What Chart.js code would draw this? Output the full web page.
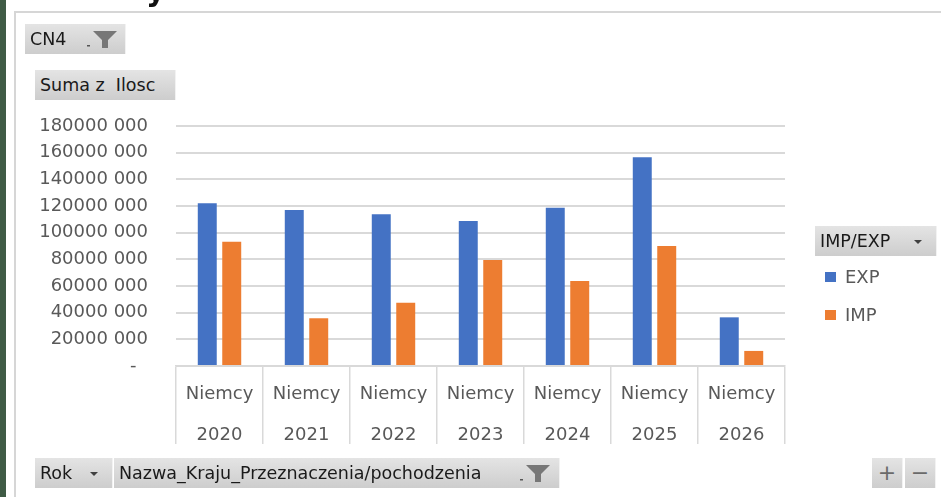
<!DOCTYPE html>
<html>
<head>
<meta charset="utf-8">
<script src="https://cdn.jsdelivr.net/npm/chart.js@4"></script>
<style>
  body { margin: 0; background: #fff; }
  #wrap { position: relative; width: 941px; height: 497px; overflow: hidden; font-family: "DejaVu Sans", sans-serif; }
  #chart { position: absolute; left: 0; top: 0; }
  .strip { position: absolute; left: 0; top: 0; width: 6px; height: 497px; background: #3f5b45; }
  .frame { position: absolute; left: 14px; top: 11px; right: -2px; bottom: -2px; border-left: 2px solid #d6d6d6; border-top: 2px solid #d6d6d6; }
  .cut { position: absolute; left: 146px; top: -27px; font: bold 30px "DejaVu Sans", sans-serif; color: #111; }
  .btn { position: absolute; height: 30px; box-sizing: border-box; background: linear-gradient(#e4e4e4, #cdcdcd); border-right: 1px solid #f2f2f2;
         font-size: 17.5px; line-height: 30px; color: #1a1a1a; padding-left: 5px; white-space: pre; }
  .btn svg { position: absolute; top: 0; }
  .legend { position: absolute; left: 825px; top: 262px; font-size: 18px; color: #595959; }
  .legend div { height: 38px; line-height: 30px; }
  .legend span { display: inline-block; width: 11px; height: 10px; margin-right: 9px; vertical-align: 1px; }
</style>
</head>
<body>
<div id="wrap">
  <canvas id="chart" width="941" height="497"></canvas>
  <div class="strip"></div>
  <div class="frame"></div>
  <div class="cut">y</div>

  <div class="btn" style="left:25px; top:24px; width:101px;">CN4
    <svg style="left:60px" width="40" height="30"><rect x="2" y="21" width="3" height="1.5" fill="#555"/><polygon points="8,7 32,7 23,16 23,24 17,24 17,16" fill="#777"/></svg></div>
  <div class="btn" style="left:35px; top:70px; width:141px;">Suma z  Ilosc</div>

  <div class="btn" style="left:815px; top:226px; width:122px;">IMP/EXP
    <svg style="left:96px" width="20" height="30"><polygon points="3,14 11,14 7,18" fill="#404040"/></svg></div>
  <div class="legend" id="legend"></div>

  <div class="btn" style="left:35px; top:458px; width:78px;">Rok
    <svg style="left:52px" width="20" height="30"><polygon points="3,14 11,14 7,18" fill="#404040"/></svg></div>
  <div class="btn" style="left:114px; top:458px; width:446px;">Nazwa_Kraju_Przeznaczenia/pochodzenia
    <svg style="left:404px" width="40" height="30"><rect x="2" y="21" width="3" height="1.5" fill="#555"/><polygon points="8,7 32,7 23,16 23,24 17,24 17,16" fill="#777"/></svg></div>
  <div class="btn" style="left:872px; top:458px; width:31px; padding:0; text-align:center; font-size:22px; color:#6a6a6a;">+</div>
  <div class="btn" style="left:905px; top:458px; width:31px; padding:0; text-align:center; font-size:22px; color:#6a6a6a;">−</div>
</div>

<script>
const countries = ['Niemcy', 'Niemcy', 'Niemcy', 'Niemcy', 'Niemcy', 'Niemcy', 'Niemcy'];
const years = ['2020', '2021', '2022', '2023', '2024', '2025', '2026'];
const seriesNames = ['EXP', 'IMP'];
const expValues = [122000000, 117000000, 113800000, 108800000, 118700000, 156500000, 36500000];
const impValues = [93200000, 35800000, 47500000, 79500000, 63800000, 90000000, 11300000];
const colors = ['#4472c4', '#ed7d31'];

const labels = years.map((y, i) => [countries[i], y]);
const grey = '#595959';
const lineGrey = '#d9d9d9';

const chart = new Chart(document.getElementById('chart'), {
  type: 'bar',
  data: {
    labels: labels,
    datasets: [
      { label: seriesNames[0], data: expValues, backgroundColor: colors[0] },
      { label: seriesNames[1], data: impValues, backgroundColor: colors[1] }
    ]
  },
  options: {
    responsive: false,
    animation: false,
    categoryPercentage: 0.5625,
    barPercentage: 0.775,
    layout: { padding: { top: 126, right: 156, left: 0, bottom: 0 } },
    plugins: {
      legend: { display: false },
      tooltip: { enabled: false }
    },
    scales: {
      x: {
        afterFit: (s) => { s.height = 131; },
        border: { display: true, color: lineGrey, width: 1.5 },
        grid: { drawOnChartArea: false, drawTicks: true, tickLength: 78, color: lineGrey, lineWidth: 1.5 },
        ticks: {
          color: grey,
          padding: -70.5,
          maxRotation: 0,
          autoSkip: false,
          font: { family: 'DejaVu Sans', size: 18, lineHeight: 41 / 18 }
        }
      },
      y: {
        min: 0,
        max: 180000000,
        afterFit: (s) => { s.width = 176; },
        border: { display: false },
        grid: { color: lineGrey, lineWidth: 2, drawTicks: false },
        ticks: {
          stepSize: 20000000,
          color: grey,
          padding: 28,
          font: { family: 'DejaVu Sans', size: 18 },
          callback: (v) => v === 0 ? '-  ' : (v / 1000) + ' 000'
        }
      }
    }
  }
});

const legendEl = document.getElementById('legend');
chart.data.datasets.forEach(ds => {
  const row = document.createElement('div');
  row.innerHTML = `<span style="background:${ds.backgroundColor}"></span>${ds.label}`;
  legendEl.appendChild(row);
});
</script>
</body>
</html>
